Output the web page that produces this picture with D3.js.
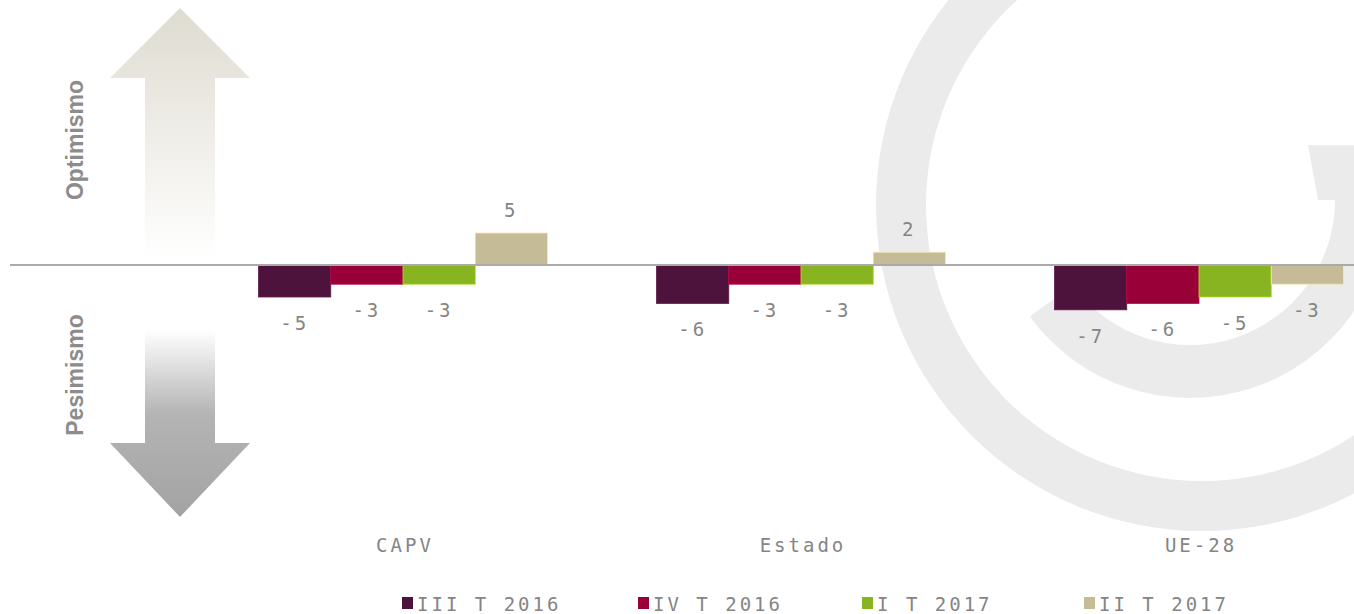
<!DOCTYPE html>
<html>
<head>
<meta charset="UTF-8">
<title>Optimismo / Pesimismo</title>
<style>
  body { margin: 0; background: #fff; }
  svg { display: block; }
  .val, .cat, .leg { font-family: "DejaVu Sans Mono", monospace; fill: #858585; letter-spacing: 3px; }
  .side { font-family: "Liberation Sans", Arial, sans-serif; font-weight: bold; fill: #8c8c8c; font-size: 23px; }
</style>
</head>
<body>
<svg></svg>
<script src="https://d3js.org/d3.v7.min.js"></script>
<script>
let width = 1354, height = 614;

// data
let categories = ["CAPV", "Estado", "UE-28"];
let series = ["III T 2016", "IV T 2016", "I T 2017", "II T 2017"];
let colors = ["#4d133c", "#990038", "#87b420", "#c5bc97"];
let values = [
  [-5, -3, -3, 5],   // CAPV
  [-6, -3, -3, 2],   // Estado
  [-7, -6, -5, -3]   // UE-28
];

let svg = d3.select("svg").attr("width", width).attr("height", height);
let defs = svg.append("defs");

// background "G" logo
let logo = svg.append("g").attr("fill", "#ebebeb");
logo.append("path")
  .attr("d", d3.arc().innerRadius(276).outerRadius(326).startAngle(0).endAngle(2 * Math.PI)())
  .attr("transform", "translate(1202,205)");
logo.append("path")
  .attr("d", d3.arc().innerRadius(145).outerRadius(198).startAngle(Math.PI / 2).endAngle(Math.PI * 1.3)())
  .attr("transform", "translate(1190,200)");
logo.append("polygon").attr("points", "1308,145 1354,145 1354,200 1318,200");

// arrows
let gUp = defs.append("linearGradient").attr("id", "gUp")
  .attr("x1", 0).attr("y1", 0).attr("x2", 0).attr("y2", 1);
gUp.append("stop").attr("offset", "0").attr("stop-color", "#dedcd0");
gUp.append("stop").attr("offset", "0.3").attr("stop-color", "#e8e6de");
gUp.append("stop").attr("offset", "1").attr("stop-color", "#ffffff");
let gDown = defs.append("linearGradient").attr("id", "gDown")
  .attr("x1", 0).attr("y1", 0).attr("x2", 0).attr("y2", 1);
gDown.append("stop").attr("offset", "0").attr("stop-color", "#ffffff");
gDown.append("stop").attr("offset", "0.45").attr("stop-color", "#b4b4b4");
gDown.append("stop").attr("offset", "1").attr("stop-color", "#a3a3a3");

svg.append("polygon")
  .attr("points", "180,8 250,78 215,78 215,258 145,258 145,78 110,78")
  .attr("fill", "url(#gUp)");
svg.append("polygon")
  .attr("points", "145,330 215,330 215,443 250,443 180,517 110,443 145,443")
  .attr("fill", "url(#gDown)");

svg.append("text").attr("class", "side")
  .attr("transform", "translate(83,140) rotate(-90)")
  .attr("text-anchor", "middle").text("Optimismo");
svg.append("text").attr("class", "side")
  .attr("transform", "translate(83,375) rotate(-90)")
  .attr("text-anchor", "middle").text("Pesimismo");

// scales
let x0 = d3.scaleBand().domain(categories).range([204, 1398])
  .paddingInner(0.274).paddingOuter(0.137);
let x1 = d3.scaleBand().domain(series).range([0, x0.bandwidth()]);
let y = d3.scaleLinear().domain([-10, 10]).range([329, 201]);

// bars
let groups = svg.append("g").selectAll("g")
  .data(categories)
  .join("g")
  .attr("transform", d => "translate(" + x0(d) + ",0)");

groups.selectAll("rect")
  .data((d, i) => values[i].map((v, j) => ({ s: series[j], v: v, c: colors[j] })))
  .join("rect")
  .attr("x", d => x1(d.s))
  .attr("width", x1.bandwidth())
  .attr("y", d => y(Math.max(0, d.v)))
  .attr("height", d => Math.abs(y(d.v) - y(0)))
  .attr("fill", d => d.c)
  .attr("stroke", d => d3.color(d.c).brighter(0.6))
  .attr("stroke-width", 0.8);

groups.selectAll("text")
  .data((d, i) => values[i].map((v, j) => ({ s: series[j], v: v })))
  .join("text")
  .attr("class", "val")
  .attr("font-size", 19)
  .attr("text-anchor", "middle")
  .attr("x", d => x1(d.s) + x1.bandwidth() / 2)
  .attr("y", d => d.v >= 0 ? y(d.v) - 16 : y(d.v) + 33)
  .text(d => d.v < 0 ? "-" + Math.abs(d.v) : d.v);

// zero line
svg.append("line")
  .attr("x1", 10).attr("x2", width)
  .attr("y1", y(0)).attr("y2", y(0))
  .attr("stroke", "#aaaaaa").attr("stroke-width", 2);

// category labels
svg.append("g").selectAll("text")
  .data(categories)
  .join("text")
  .attr("class", "cat")
  .attr("font-size", 19)
  .attr("text-anchor", "middle")
  .attr("x", d => x0(d) + x0.bandwidth() / 2 + 2)
  .attr("y", 552)
  .text(d => d);

// legend
let legX = [402, 638, 862, 1084];
let leg = svg.append("g").selectAll("g")
  .data(series)
  .join("g")
  .attr("transform", (d, i) => "translate(" + legX[i] + ",597)");
leg.append("rect").attr("width", 11).attr("height", 12)
  .attr("fill", (d, i) => colors[i]);
leg.append("text").attr("class", "leg")
  .attr("font-size", 19)
  .attr("x", 15).attr("y", 14)
  .text(d => d);
</script>
</body>
</html>
